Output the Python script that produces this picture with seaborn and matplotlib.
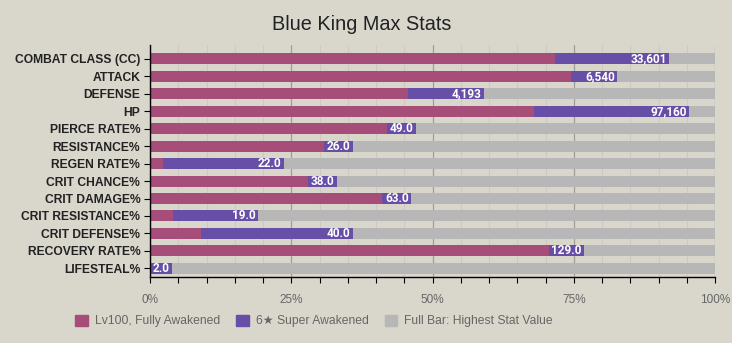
import matplotlib
matplotlib.use('Agg')
import matplotlib.pyplot as plt
import seaborn as sns
import pandas as pd
from matplotlib.patches import Patch
from matplotlib.ticker import MultipleLocator, PercentFormatter

# ---- data ----
stats = ["COMBAT CLASS (CC)", "ATTACK", "DEFENSE", "HP", "PIERCE RATE%",
         "RESISTANCE%", "REGEN RATE%", "CRIT CHANCE%", "CRIT DAMAGE%",
         "CRIT RESISTANCE%", "CRIT DEFENSE%", "RECOVERY RATE%", "LIFESTEAL%"]
lv100_pct = [71.7, 74.5, 45.7, 68.0, 47.1, 35.9, 2.3, 33.1, 46.2, 4.1, 9.0, 76.8, 3.9]
super_pct = [91.9, 82.7, 59.1, 95.4, 47.1, 35.9, 23.7, 33.1, 46.2, 19.1, 35.9, 76.8, 3.9]
full_pct = [100] * 13
value_labels = ["33,601", "6,540", "4,193", "97,160", "49.0", "26.0", "22.0",
                "38.0", "63.0", "19.0", "40.0", "129.0", "2.0"]
series_names = ["Lv100, Fully Awakened", "6\u2605 Super Awakened", "Full Bar: Highest Stat Value"]
title = "Blue King Max Stats"

BG = '#d9d6cc'
PINK = '#a64d79'
PURPLE = '#674ea7'
GRAY = '#b7b7b7'
BAR_H = 0.63

sns.set_theme(style='white')
plt.rcParams['font.family'] = ['Liberation Sans', 'DejaVu Sans']

fig = plt.figure(figsize=(7.32, 3.43), dpi=100, facecolor=BG)
ax = fig.add_axes([150 / 732, 1 - 277 / 343, 565 / 732, (277 - 45) / 343])
ax.set_facecolor(BG)

df = pd.DataFrame({'stat': stats, 'lv': lv100_pct, 'sa': super_pct, 'full': full_pct})
for col, c in [('full', GRAY), ('sa', PURPLE), ('lv', PINK)]:
    sns.barplot(data=df, y='stat', x=col, orient='h', color=c, width=BAR_H,
                saturation=1, ax=ax, zorder=2, linewidth=0, edgecolor='none')

ax.set_xlim(0, 100)
ax.set_ylim(12.5, -0.8)
ax.set_xlabel('')
ax.set_ylabel('')

# value labels with purple background box at the end of the bar
fig.canvas.draw()
r = fig.canvas.get_renderer()
ax_w_px = ax.get_window_extent(r).width
for i, (end, lab) in enumerate(zip(super_pct, value_labels)):
    t = ax.text(0, i, lab, ha='center', va='center', color='white',
                fontsize=8.5, fontweight='bold', family=['Roboto', 'DejaVu Sans'], zorder=6)
    w_px = t.get_window_extent(r).width + 5
    w = w_px / ax_w_px * 100
    left = max(end - w, -0.4)
    ax.barh(i, w, left=left, height=BAR_H, color=PURPLE, linewidth=0, zorder=5, clip_on=False)
    t.set_x(left + w / 2)

ax.set_xlim(0, 100)
ax.set_ylim(12.5, -0.8)

ax.xaxis.set_major_locator(MultipleLocator(25))
ax.xaxis.set_minor_locator(MultipleLocator(5))
ax.xaxis.set_major_formatter(PercentFormatter(decimals=0))
ax.set_axisbelow(True)
ax.grid(which='major', axis='x', color='#a19e97', lw=0.9, zorder=0)
ax.grid(which='minor', axis='x', color='#cdc9c0', lw=0.8, zorder=0)
ax.grid(which='major', axis='y', visible=False)

for s in ['top', 'right']:
    ax.spines[s].set_visible(False)
for s in ['left', 'bottom']:
    ax.spines[s].set_visible(True)
    ax.spines[s].set_color('black')
    ax.spines[s].set_linewidth(1.0)
    ax.spines[s].set_zorder(7)

ax.tick_params(axis='x', which='both', direction='out', length=4.5, width=0.8,
               color='black', bottom=True, pad=8)
ax.tick_params(axis='x', which='major', labelsize=8.5, labelcolor='#666666')
ax.tick_params(axis='y', direction='out', length=4, width=0.8, color='black',
               left=True, pad=3, labelsize=8.7, labelcolor='#222222')
for lbl in ax.get_yticklabels():
    lbl.set_fontweight('bold')

fig.text(362 / 732, 1 - 25 / 343, title, ha='center', va='center',
         fontsize=14.3, color='#222222')

handles = [Patch(facecolor=PINK, edgecolor=PINK), Patch(facecolor=PURPLE, edgecolor=PURPLE),
           Patch(facecolor=GRAY, edgecolor=GRAY)]
leg = fig.legend(handles, series_names, loc='center', bbox_to_anchor=(314 / 732, 1 - 321 / 343),
                 ncol=3, frameon=False, handlelength=1.05, handleheight=1.05,
                 handletextpad=0.55, columnspacing=1.35,
                 prop={'family': ['Liberation Sans', 'DejaVu Sans'], 'size': 8.7})
for txt in leg.get_texts():
    txt.set_color('#666666')

fig.savefig('out.png', dpi=100, facecolor=BG)
